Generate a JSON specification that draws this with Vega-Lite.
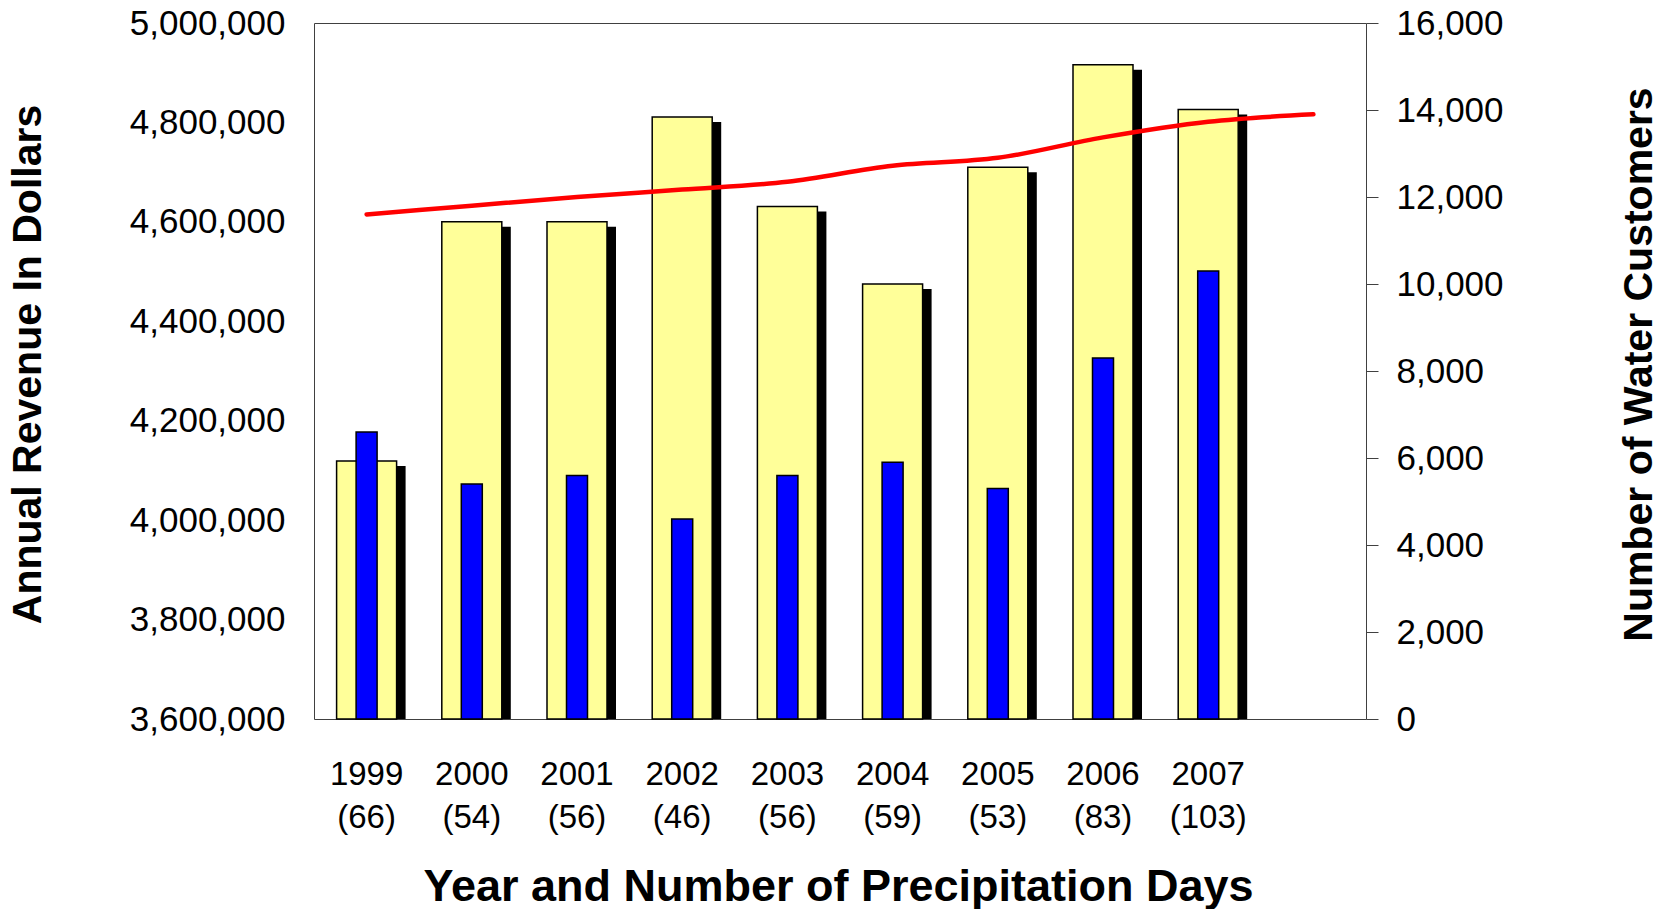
{
  "$schema": "https://vega.github.io/schema/vega-lite/v6.json",
  "width": 1052,
  "height": 696,
  "autosize": {"type": "none"},
  "padding": {"left": 314, "top": 23, "right": 310, "bottom": 190},
  "background": "white",
  "config": {
    "font": "Liberation Sans",
    "view": {"stroke": "#404040", "strokeWidth": 1},
    "axis": {"grid": false, "labelColor": "black", "titleColor": "black", "domain": false}
  },
  "data": {
    "values": [
      {"label": "1999 (66)", "revenue": 4119000, "precip": 6600, "customers": 11600},
      {"label": "2000 (54)", "revenue": 4600000, "precip": 5400, "customers": 11800},
      {"label": "2001 (56)", "revenue": 4600000, "precip": 5600, "customers": 12000},
      {"label": "2002 (46)", "revenue": 4811000, "precip": 4600, "customers": 12170},
      {"label": "2003 (56)", "revenue": 4631000, "precip": 5600, "customers": 12350},
      {"label": "2004 (59)", "revenue": 4475000, "precip": 5900, "customers": 12720},
      {"label": "2005 (53)", "revenue": 4710000, "precip": 5300, "customers": 12900},
      {"label": "2006 (83)", "revenue": 4916000, "precip": 8300, "customers": 13370},
      {"label": "2007 (103)", "revenue": 4826000, "precip": 10300, "customers": 13730},
      {"label": " ", "customers": 13900}
    ]
  },
  "encoding": {
    "x": {
      "field": "label",
      "type": "nominal",
      "sort": null,
      "scale": {"paddingInner": 0, "paddingOuter": 0},
      "axis": {
        "title": "Year and Number of Precipitation Days",
        "labelExpr": "split(datum.label, ' ')",
        "labelAngle": 0,
        "labelFontSize": 33,
        "labelLineHeight": 43,
        "labelPadding": 39,
        "labelOverlap": false,
        "ticks": false,
        "tickSize": 0,
        "titleFontSize": 45,
        "titleFontWeight": "bold",
        "titleX": 524,
        "titleY": 181,
        "titleBaseline": "alphabetic",
        "titleAlign": "center"
      }
    }
  },
  "layer": [
    {
      "encoding": {
        "y": {
          "field": "revenue",
          "type": "quantitative",
          "scale": {"domain": [3600000, 5000000], "zero": false, "nice": false},
          "axis": {
            "orient": "left",
            "values": [3600000, 3800000, 4000000, 4200000, 4400000, 4600000, 4800000, 5000000],
            "format": ",.0f",
            "title": "Annual Revenue In Dollars",
            "titleFontSize": 41,
            "titleFontWeight": "bold",
            "titleAngle": 270,
            "titleX": -286,
            "titleY": 341,
            "titleBaseline": "middle",
            "titleAlign": "center",
            "labelFontSize": 35,
            "labelPadding": 29,
            "ticks": false,
            "tickSize": 0
          }
        },
        "y2": {"datum": 3600000}
      },
      "layer": [
        {
          "mark": {"type": "bar", "color": "black", "size": 60, "xOffset": 9, "yOffset": 5, "clip": true}
        },
        {
          "mark": {"type": "bar", "fill": "#FFFF99", "stroke": "black", "strokeWidth": 1.5, "size": 60}
        }
      ]
    },
    {
      "layer": [
        {
          "mark": {"type": "bar", "fill": "#0000FF", "stroke": "black", "strokeWidth": 1.5, "size": 21},
          "encoding": {
            "y": {
              "field": "precip",
              "type": "quantitative",
              "scale": {"domain": [0, 16000], "nice": false},
              "axis": {
                "orient": "right",
                "values": [0, 2000, 4000, 6000, 8000, 10000, 12000, 14000, 16000],
                "format": ",.0f",
                "title": "Number of Water Customers",
                "titleFontSize": 41,
                "titleFontWeight": "bold",
                "titleAngle": 270,
                "titleX": 273,
                "titleY": 341,
                "titleBaseline": "middle",
                "titleAlign": "center",
                "labelFontSize": 35,
                "labelPadding": 18,
                "tickSize": 12,
                "tickColor": "#404040"
              }
            }
          }
        },
        {
          "mark": {"type": "line", "color": "#FF0000", "strokeWidth": 4.5, "interpolate": "monotone", "strokeCap": "round"},
          "encoding": {
            "y": {
              "field": "customers",
              "type": "quantitative",
              "axis": {
                "orient": "right",
                "values": [0, 2000, 4000, 6000, 8000, 10000, 12000, 14000, 16000],
                "format": ",.0f",
                "title": "Number of Water Customers",
                "titleFontSize": 41,
                "titleFontWeight": "bold",
                "titleAngle": 270,
                "titleX": 273,
                "titleY": 341,
                "titleBaseline": "middle",
                "titleAlign": "center",
                "labelFontSize": 35,
                "labelPadding": 18,
                "tickSize": 12,
                "tickColor": "#404040"
              }
            }
          }
        }
      ]
    }
  ],
  "resolve": {"scale": {"y": "independent"}}
}
